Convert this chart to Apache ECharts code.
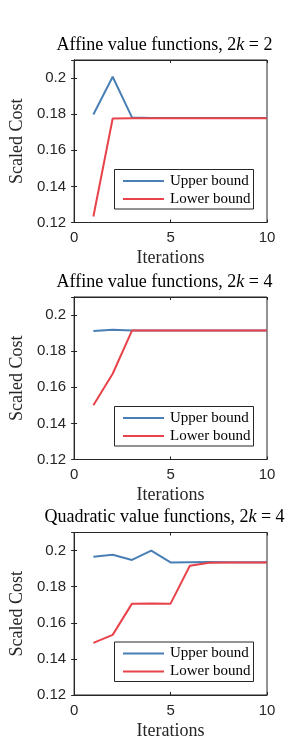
<!DOCTYPE html>
<html>
<head>
<meta charset="utf-8">
<script src="https://cdn.jsdelivr.net/npm/echarts@6/dist/echarts.min.js"></script>
<style>html,body{margin:0;padding:0;background:#fff}#c{width:296px;height:749px}</style>
</head>
<body>
<div id="c"></div>
<script>
const iterations = [1, 2, 3, 4, 5, 6, 7, 8, 9, 10];
const xTicks = [0, 5, 10];
const yTicks = [0.12, 0.14, 0.16, 0.18, 0.2];
const seriesNames = ['Upper bound', 'Lower bound'];
const panelTitles = [
  ['Affine value functions, 2', 'k', ' = 2'],
  ['Affine value functions, 2', 'k', ' = 4'],
  ['Quadratic value functions, 2', 'k', ' = 4']
];
const aff2Upper = [0.1798, 0.2007, 0.1782, 0.1779, 0.1779, 0.1779, 0.1779, 0.1779, 0.1779, 0.1779];
const aff2Lower = [0.1233, 0.1776, 0.1778, 0.1778, 0.1778, 0.1778, 0.1778, 0.1778, 0.1778, 0.1778];
const aff4Upper = [0.1912, 0.1918, 0.1914, 0.1914, 0.1914, 0.1914, 0.1914, 0.1914, 0.1914, 0.1914];
const aff4Lower = [0.1501, 0.1675, 0.1914, 0.1914, 0.1914, 0.1914, 0.1914, 0.1914, 0.1914, 0.1914];
const quadUpper = [0.1966, 0.1977, 0.1948, 0.2000, 0.1934, 0.1935, 0.1936, 0.1935, 0.1935, 0.1935];
const quadLower = [0.1489, 0.1533, 0.1706, 0.1707, 0.1706, 0.1916, 0.1932, 0.1934, 0.1934, 0.1934];

const panels = [[aff2Upper, aff2Lower], [aff4Upper, aff4Lower], [quadUpper, quadLower]];
const colors = ['#4a7fb5', '#e8434a'];
const gridTops = [60, 297, 532.5];
const gridH = 162.5;
const gridL = 62, gridW = 205;
const ink = '#262626';
const serif = 'Liberation Serif';
const sans = 'Liberation Sans';

const chart = echarts.init(document.getElementById('c'), null, {renderer: 'canvas'});
const grid = [], xAxis = [], yAxis = [], series = [], title = [], legend = [], graphic = [];
const xmin = xTicks[0], xmax = xTicks[xTicks.length - 1], xint = xTicks[1] - xTicks[0];
const ymin = yTicks[0], yint = 0.02, ymax = 0.21;

panels.forEach((p, i) => {
  const top = gridTops[i];
  grid.push({left: gridL, top: top, width: gridW, height: gridH, show: true,
    borderColor: ink, borderWidth: 1, backgroundColor: '#fff', containLabel: false});
  const tick = {show: true, inside: true, length: 3, lineStyle: {color: ink, width: 1}};
  xAxis.push({gridIndex: i, type: 'value', position: 'bottom', min: xmin, max: xmax, interval: xint,
    axisLine: {show: true, lineStyle: {color: ink, width: 1}}, axisTick: tick, splitLine: {show: false},
    axisLabel: {color: ink, fontFamily: sans, fontSize: 15, margin: 8},
    name: 'Iterations', nameLocation: 'middle', nameGap: 27,
    nameTextStyle: {color: ink, fontFamily: serif, fontSize: 18}});
  xAxis.push({gridIndex: i, type: 'value', position: 'top', min: xmin, max: xmax, interval: xint,
    axisLine: {show: true, lineStyle: {color: ink, width: 1}}, axisTick: tick, splitLine: {show: false},
    axisLabel: {show: false}});
  yAxis.push({gridIndex: i, type: 'value', position: 'left', min: ymin, max: ymax, interval: yint,
    axisLine: {show: true, lineStyle: {color: ink, width: 1}}, axisTick: tick, splitLine: {show: false},
    axisLabel: {color: ink, fontFamily: sans, fontSize: 15, margin: 8, showMaxLabel: false,
      formatter: v => String(Math.round(v * 100) / 100)},
    name: 'Scaled Cost', nameLocation: 'middle', nameGap: 44,
    nameTextStyle: {color: ink, fontFamily: serif, fontSize: 18}});
  yAxis.push({gridIndex: i, type: 'value', position: 'right', min: ymin, max: ymax, interval: yint,
    axisLine: {show: true, lineStyle: {color: ink, width: 1}}, axisTick: tick, splitLine: {show: false},
    axisLabel: {show: false}});
  p.forEach((vals, s) => {
    series.push({type: 'line', name: seriesNames[s], xAxisIndex: 2 * i, yAxisIndex: 2 * i,
      data: iterations.map((x, k) => [x, vals[k]]), showSymbol: false, symbol: 'none',
      color: colors[s], lineStyle: {color: colors[s], width: 2}, z: 3 + s, animation: false});
  });
  const t = panelTitles[i];
  title.push({text: t[0] + '{i|' + t[1] + '}' + t[2], left: gridL + gridW / 2, textAlign: 'center',
    top: top - 24, padding: 0,
    textStyle: {fontFamily: serif, fontSize: 18, fontWeight: 'normal', color: '#000',
      rich: {i: {fontFamily: serif, fontSize: 18, fontStyle: 'italic', color: '#000'}}}});
  const bx = 114.5, bw = 139, bh = 39.5, bb = top + gridH - 13.5;
  graphic.push({type: 'rect', shape: {x: bx, y: bb - bh, width: bw, height: bh},
    style: {fill: '#fff', stroke: ink, lineWidth: 1}, z: 50});
  legend.push({data: seriesNames, orient: 'vertical', left: 123, top: bb - bh + 4, padding: 0,
    itemWidth: 41, itemHeight: 2, itemGap: 3, icon: 'rect', z: 60,
    textStyle: {fontFamily: serif, fontSize: 15, color: '#000', lineHeight: 14, padding: [0, 0, 0, 1]},
    selectedMode: false});
});

chart.setOption({animation: false, backgroundColor: '#fff', grid, xAxis, yAxis, series, title, legend,
  graphic: {elements: graphic}});
</script>
</body>
</html>
